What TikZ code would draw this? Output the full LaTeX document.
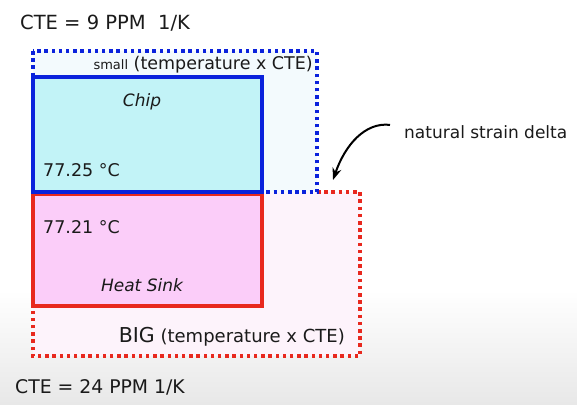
\documentclass[tikz,border=0pt]{standalone}
\usepackage{fontspec}
\setmainfont{DejaVu Sans}
\usetikzlibrary{arrows.meta}
\definecolor{chipblue}{HTML}{0A22DC}
\definecolor{sinkred}{HTML}{E8281E}
\definecolor{chipfill}{HTML}{C2F3F7}
\definecolor{sinkfill}{HTML}{FBCDF9}
\definecolor{smallfill}{HTML}{F3FAFD}
\definecolor{bigfill}{HTML}{FDF3FB}
\definecolor{txt}{HTML}{1A1A1A}

\begin{document}
\begin{tikzpicture}[x=1pt,y=-1pt,
    dots/.style={line width=3.2pt, dash pattern=on 3.5pt off 3.7pt},
    lbl/.style={inner sep=0pt, text=txt, font=\fontsize{17.5}{20}\selectfont},
    ctelbl/.style={lbl, font=\fontsize{19.5}{23}\selectfont}]
    \useasboundingbox (0,0) rectangle (577,404);
    \shade[top color=white, bottom color=black!9] (0,290) rectangle (577,404);
    % expanded outlines
    \fill[bigfill] (33,192) rectangle (360,356);
    \fill[smallfill] (33,51) rectangle (317,192);
    \draw[dots, sinkred] (317,192) -- (360,192) -- (360,356) -- (33,356) -- (33,306);
    \draw[dots, chipblue] (33,51) rectangle (317,192);
    % parts
    \draw[line width=4pt, sinkred, fill=sinkfill] (33,194) rectangle (262,306);
    \draw[line width=4pt, chipblue, fill=chipfill] (33,77) rectangle (262,192);
    \node[ctelbl, anchor=base west] (cteChip) at (20,30) {CTE = 9 PPM\ \ 1/K};
    \node[lbl, anchor=base east] (smallCte) at (313,69) {{\fontsize{13}{15}\selectfont small} (temperature x CTE)};
    \node[lbl, anchor=base, font=\fontsize{17}{20}\selectfont\itshape] (chip) at (142,106) {Chip};
    \node[lbl, anchor=base west] (chipT) at (43,176) {77.25 °C};
    \node[lbl, anchor=base west] (sinkT) at (43,233) {77.21 °C};
    \node[lbl, anchor=base, font=\fontsize{17}{20}\selectfont\itshape] (sink) at (142,291) {Heat Sink};
    \node[lbl, anchor=base east, font=\fontsize{18}{21}\selectfont] (bigCte) at (345,342) {{\fontsize{20.5}{24}\selectfont BIG} (temperature x CTE)};
    \node[ctelbl, anchor=base west, font=\fontsize{18.8}{22}\selectfont] (cteSink) at (15,393) {CTE = 24 PPM 1/K};
    \node[lbl, anchor=base west, font=\fontsize{17}{20}\selectfont] (delta) at (404,138) {natural strain delta};
    % arrow to the corner
    \coordinate (corner) at (333,180);
    \draw[line width=2pt, -{Stealth[length=12pt,width=9pt]}] ([xshift=-14pt]delta.north west)
        .. controls (365,122) and (345,145) .. (corner);
\end{tikzpicture}
\end{document}
